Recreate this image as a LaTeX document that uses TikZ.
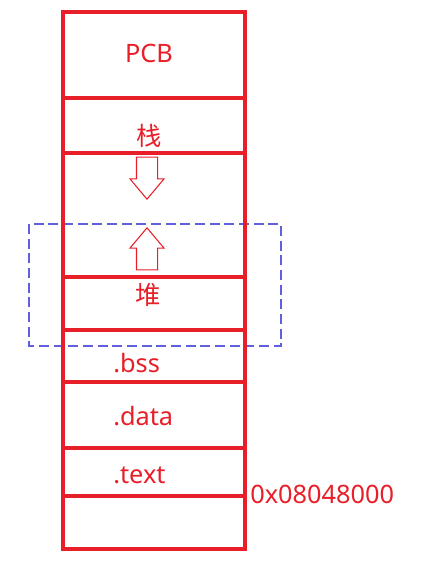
\documentclass[tikz,border=0pt]{standalone}
\usepackage{tikz}
\usepackage{fontspec}
\usetikzlibrary{positioning,shapes.arrows}
\setmainfont{Noto Sans}
\newfontfamily\cjk{Noto Sans CJK SC}
\definecolor{memred}{RGB}{232,30,40}
\definecolor{areablue}{RGB}{96,96,220}

\begin{document}
\begin{tikzpicture}[x=0.75pt,y=-0.75pt,
  seg/.style={draw=memred,line width=2.4pt,minimum width=136.5pt,inner sep=0pt,outer sep=0pt},
  lbl/.style={text=memred,font=\fontsize{19}{22}\selectfont,inner sep=0pt},
  growarrow/.style={single arrow,draw=memred,line width=0.8pt,inner xsep=0pt,inner ysep=7.5pt,
    minimum height=31.5pt,single arrow head extend=4.9pt,single arrow tip angle=80},
  area/.style={draw=areablue,line width=0.8pt,dash pattern=on 7.5pt off 3.5pt}]
  \useasboundingbox (0,0) rectangle (447,564);
  % heap area
  \draw[area] (29,224) rectangle (281,346);

  % memory segments, top to bottom
  \node[seg,minimum height=64.5pt,anchor=north west] (pcb) at (63,12) {};
  \node[seg,minimum height=41.25pt] (stack) [below=0pt of pcb] {};
  \node[seg,minimum height=93pt] (free) [below=0pt of stack] {};
  \node[seg,minimum height=39.75pt] (heap) [below=0pt of free] {};
  \node[seg,minimum height=39pt] (bss) [below=0pt of heap] {};
  \node[seg,minimum height=49.5pt] (data) [below=0pt of bss] {};
  \node[seg,minimum height=36pt] (text) [below=0pt of data] {};
  \node[seg,minimum height=39.75pt] (low) [below=0pt of text] {};

  \node[growarrow,rotate=-90,anchor=tip] (down) at (147,200) {};
  \node[growarrow,rotate=90,anchor=tip] (up) at (147,227) {};

  \node[lbl,anchor=base] (pcblbl) at (149,62) {PCB};
  \node[lbl,anchor=base] (stacklbl) at (149.5,145) {\cjk 栈};
  \node[lbl,anchor=base] (heaplbl) at (148,304) {\cjk 堆};
  \node[lbl,anchor=base west] (bsslbl) at (113,372) {.bss};
  \node[lbl,anchor=base west] (datalbl) at (113,425) {.data};
  \node[lbl,anchor=base west] (textlbl) at (113,483) {.text};
  \node[lbl,anchor=base west] (addr) at (250,503) {0x08048000};
\end{tikzpicture}
\end{document}
